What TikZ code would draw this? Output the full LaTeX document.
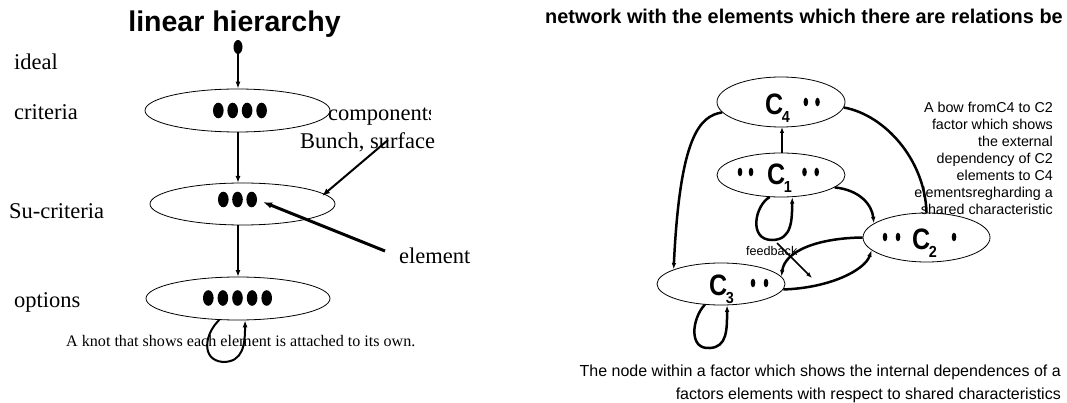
\documentclass[tikz,border=0pt]{standalone}
\usepackage{graphicx}
\usepackage{fontspec}
\setmainfont{Liberation Serif}
\newfontfamily\arialf{Liberation Sans}
\usetikzlibrary{arrows.meta,shapes.geometric}
\newcommand\cname[1]{\scalebox{0.85}[1]{\fontsize{29.5}{30}\selectfont\arialf\bfseries C}\kern-1.5pt\raisebox{-8pt}{\scalebox{0.9}[1]{\fontsize{16}{16}\selectfont\arialf\bfseries #1}}}
\begin{document}
\begin{tikzpicture}[x=1pt,y=-1pt,
  lvl/.style={draw, ellipse, line width=0.8pt, inner sep=0pt},
  serif/.style={font=\fontsize{22.5}{27}\selectfont, inner sep=0pt, anchor=base west},
  arr/.style={-{Latex[length=7pt,width=5pt]}, line width=1.6pt},
  bow/.style={-{Latex[length=6.5pt,width=4.5pt]}, line width=2.5pt},
  lbl/.style={inner sep=0pt, anchor=base west},
]
\useasboundingbox[fill=white] (0,0) rectangle (1067,403);

% ---------- left: linear hierarchy ----------
\node[lbl, anchor=base, font=\fontsize{28.5}{30}\selectfont\arialf\bfseries] (t1) at (234.5,32) {linear hierarchy};

\node[ellipse, fill, minimum width=9pt, minimum height=14pt, inner sep=0pt] (top) at (238,47) {};
\node[lvl, minimum width=185pt, minimum height=43pt] (crit) at (237.5,110.5) {};
\node[lvl, minimum width=185pt, minimum height=42pt] (sub) at (242.5,204) {};
\node[lvl, minimum width=184pt, minimum height=43pt] (opt) at (238,298.5) {};

\foreach \x in {218.3,232.7,247.1,261.6} \fill (\x,110.5) ellipse [x radius=5.3pt, y radius=7.8pt];
\foreach \x in {223.3,237.5,251.7} \fill (\x,199.5) ellipse [x radius=5.3pt, y radius=7.8pt];
\foreach \x in {208.3,222.9,237.5,252.1,266.7} \fill (\x,298) ellipse [x radius=5.3pt, y radius=7.8pt];

\draw[arr] (top.south) -- (top.south |- crit.north);
\draw[arr] (crit.south -| top.south) -- (238,183);
\draw[arr] (238,225) -- (238,277);

\draw[-{Latex[length=7pt,width=5pt]}, line width=2pt] (opt.229) .. controls (205,333) and (200,360) .. (223,362) .. controls (243,362) and (245,345) .. (opt.288);

\node[serif] (ideal) at (14,70) {ideal};
\node[serif] (lcrit) at (14,120) {criteria};
\node[serif] (lsub) at (9,219) {Su-criteria};
\node[serif] (lopt) at (14,307) {options};
\begin{scope}
\clip (300,90) rectangle (430,130);
\node[serif] (comp) at (328,121) {components};
\end{scope}
\node[serif] (bunch) at (300,149) {Bunch, surface};
\node[serif] (elem) at (399,263) {element};
\node[lbl, font=\fontsize{16.1}{18}\selectfont] (knot) at (66,346) {A knot that shows each element is attached to its own.};

\coordinate (b1) at (388,140);
\coordinate (b2) at (322,196);
\draw[-{Latex[length=8pt,width=6pt]}, line width=2pt] (b1) -- (b2);
\coordinate (e1) at (385,251);
\coordinate (e2) at (263,202);
\draw[-{Latex[length=9pt,width=6.5pt]}, line width=3pt] (e1) -- (e2);

% ---------- right: network ----------
\node[lbl, font=\fontsize{19.9}{22}\selectfont\arialf\bfseries] (t2) at (545,24) {network with the elements which there are relations be};

\node[lvl, minimum width=128pt, minimum height=50pt] (c4) at (781,102) {};
\node[lvl, minimum width=128pt, minimum height=44pt] (c1) at (781,175) {};
\node[lvl, minimum width=127pt, minimum height=49pt] (c2) at (926.5,237.5) {};
\node[lvl, minimum width=128pt, minimum height=42pt] (c3) at (721,284) {};

\node[lbl] (n4) at (765,115) {\cname{4}};
\node[lbl] (n1) at (767,185) {\cname{1}};
\node[lbl] (n2) at (912,250) {\cname{2}};
\node[lbl] (n3) at (709,295) {\cname{3}};

\foreach \x in {805.8,817.5} \fill (\x,102) ellipse [x radius=2.3pt, y radius=4.3pt];
\foreach \x in {740,751,804.5,816.7} \fill (\x,172) ellipse [x radius=2.3pt, y radius=4.3pt];
\foreach \x in {885,898,954} \fill (\x,237) ellipse [x radius=2.3pt, y radius=4.3pt];
\foreach \x in {753,766} \fill (\x,283) ellipse [x radius=2.3pt, y radius=4.3pt];

\draw[-{Latex[length=6pt,width=4.5pt]}, line width=1.6pt] (c1.north -| 782,0) -- (782,127);

\draw[bow] (c4.190) .. controls (700,116) and (680,135) .. (c3.163);
\draw[line width=2.5pt] (c4.355) .. controls (885,115) and (925,160) .. (c2.north);
\draw[bow] (c1.-13) .. controls (860,190) and (872,205) .. (c2.165);
\draw[bow] (c2.west) .. controls (820,238) and (785,250) .. (c3.7);
\draw[bow] (c3.-5) .. controls (830,288) and (865,270) .. (c2.193);
\draw[bow] (c1.243) .. controls (755,205) and (748,240) .. (772,240) .. controls (792,240) and (792,220) .. (c1.297);
\draw[bow] (c3.232) .. controls (692,318) and (688,350) .. (710,348) .. controls (727,347) and (727,330) .. (c3.286);

\node[lbl, font=\fontsize{12.6}{14}\selectfont\arialf] (fb) at (746,255) {feedback};
\coordinate (f1) at (777,243);
\coordinate (f2) at (812,278);
\draw[-{Latex[length=6pt,width=4.5pt]}, line width=1.5pt] (f1) -- (f2);

\node[inner sep=0pt, anchor=north east, align=right, font=\fontsize{14.3}{17}\selectfont\arialf] (bowtxt) at (1053,101.6) {A bow fromC4 to C2\\factor which shows\\the external\\dependency of C2\\elements to C4\\elementsregharding a\\shared characteristic};

\node[inner sep=0pt, anchor=north east, align=right, font=\fontsize{16}{23}\selectfont\arialf] (nodetxt) at (1061,364.5) {The node within a factor which shows the internal dependences of a\\factors elements with respect to shared characteristics};
\end{tikzpicture}
\end{document}
